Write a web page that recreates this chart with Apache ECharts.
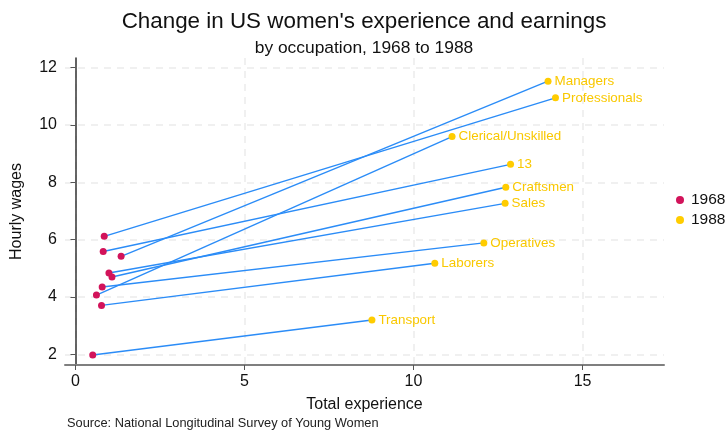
<!DOCTYPE html>
<html>
<head>
<meta charset="utf-8">
<script src="https://cdn.jsdelivr.net/npm/echarts@6/dist/echarts.min.js"></script>
<style>
  html, body { margin: 0; padding: 0; background: #fff; }
  #chart { width: 728px; height: 430px; }
</style>
</head>
<body>
<div id="chart"></div>
<script>
// occupations and values
var occupations = ['Managers', 'Professionals', 'Clerical/Unskilled', '13', 'Craftsmen', 'Sales', 'Operatives', 'Laborers', 'Transport'];
var exp1968  = [1.35, 0.85, 0.62, 0.82, 1.08, 0.99, 0.79, 0.77, 0.51];
var wage1968 = [5.42, 6.12, 4.07, 5.59, 4.70, 4.84, 4.35, 3.71, 1.98];
var exp1988  = [13.98, 14.20, 11.14, 12.87, 12.73, 12.71, 12.08, 10.63, 8.77];
var wage1988 = [11.53, 10.95, 9.60, 8.63, 7.83, 7.27, 5.89, 5.18, 3.20];
var xTicks = [0, 5, 10, 15];
var yTicks = [2, 4, 6, 8, 10, 12];

var font = 'Liberation Sans, Arial, sans-serif';
var red = '#d2135a';
var gold = '#ffcc00';
var blue = '#2b8cf7';

var chart = echarts.init(document.getElementById('chart'));

var series = [];
// connecting lines, one per occupation
occupations.forEach(function (name, i) {
  series.push({
    type: 'line',
    silent: true,
    showSymbol: false,
    symbol: 'none',
    z: 1,
    lineStyle: { color: blue, width: 1.4 },
    data: [[exp1968[i], wage1968[i]], [exp1988[i], wage1988[i]]]
  });
});

series.push({
  name: '1968',
  type: 'scatter',
  symbolSize: 7,
  z: 3,
  itemStyle: { color: red, opacity: 1 },
  data: occupations.map(function (n, i) { return [exp1968[i], wage1968[i]]; })
});

series.push({
  name: '1988',
  type: 'scatter',
  symbolSize: 7,
  z: 3,
  itemStyle: { color: gold, opacity: 1 },
  label: {
    show: true,
    position: 'right',
    distance: 3,
    color: '#f9c800',
    fontFamily: font,
    fontSize: 13.4,
    formatter: function (p) { return occupations[p.dataIndex]; }
  },
  data: occupations.map(function (n, i) { return [exp1988[i], wage1988[i]]; })
});

var option = {
  backgroundColor: '#fff',
  animation: false,
  title: [
    {
      text: "Change in US women's experience and earnings",
      left: 'center',
      top: 6,
      textStyle: { fontFamily: font, fontSize: 22.4, fontWeight: 'normal', color: '#111' }
    },
    {
      text: 'by occupation, 1968 to 1988',
      left: 'center',
      top: 35,
      textStyle: { fontFamily: font, fontSize: 17.4, fontWeight: 'normal', color: '#111' }
    },
    {
      text: 'Source: National Longitudinal Survey of Young Women',
      left: 62,
      top: 412,
      textStyle: { fontFamily: font, fontSize: 12.8, fontWeight: 'normal', color: '#222' }
    }
  ],
  legend: {
    orient: 'vertical',
    left: 671,
    top: 187,
    itemGap: 4,
    itemWidth: 8,
    itemHeight: 8,
    icon: 'circle',
    data: ['1968', '1988'],
    textStyle: { fontFamily: font, fontSize: 15.5, color: '#111', padding: [0, 0, 0, 2] }
  },
  grid: { left: 65, right: 64, top: 58, bottom: 65, containLabel: false },
  xAxis: {
    type: 'value',
    min: -0.31,
    max: 17.41,
    name: 'Total experience',
    nameLocation: 'middle',
    nameGap: 32,
    nameTextStyle: { fontFamily: font, fontSize: 16, color: '#111' },
    axisLine: { show: true, lineStyle: { color: '#7f7f7f', width: 2 } },
    axisTick: { show: true, customValues: xTicks, length: 5, lineStyle: { color: '#555' } },
    axisLabel: { customValues: xTicks, fontFamily: font, fontSize: 16, color: '#111', margin: 9 },
    splitLine: { show: true, lineStyle: { color: '#ebebeb', width: 1.5, type: [7, 6] } }
  },
  yAxis: {
    type: 'value',
    min: 1.63,
    max: 12.34,
    name: 'Hourly wages',
    nameLocation: 'middle',
    nameGap: 40,
    nameRotate: 90,
    nameTextStyle: { fontFamily: font, fontSize: 16, color: '#111' },
    axisLine: { show: true, lineStyle: { color: '#333', width: 1.5 } },
    axisTick: { show: true, customValues: yTicks, length: 5, lineStyle: { color: '#555' } },
    axisLabel: { customValues: yTicks, fontFamily: font, fontSize: 16, color: '#111', margin: 8 },
    splitLine: { show: true, lineStyle: { color: '#ebebeb', width: 1.5, type: [7, 6] } }
  },
  series: series
};

chart.setOption(option);
</script>
</body>
</html>
